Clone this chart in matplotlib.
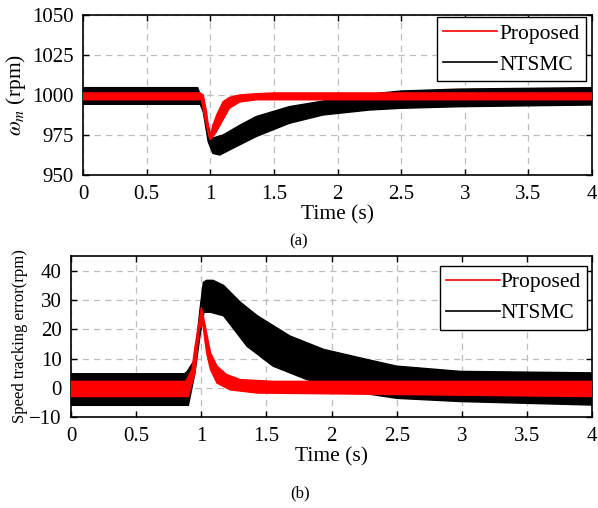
import matplotlib
matplotlib.use("Agg")
import matplotlib.pyplot as plt

plt.rcParams['font.family'] = ['Liberation Serif', 'DejaVu Serif']
plt.rcParams['mathtext.fontset'] = 'stix'

# rotor speed (rpm): upper and lower edge of the ripple band, each with its own time axis
t_spd_prop_hi = [0, 0.92, 0.944, 0.97, 0.996, 1.02, 1.05, 1.10, 1.15, 1.23, 1.36, 1.5, 4.0]
spd_prop_hi = [1001.3, 1001.3, 1000, 989.6, 973.5, 981, 987.5, 995.8, 998.5, 1000, 1000.8, 1001.3, 1001.3]
t_spd_prop_lo = [0, 0.93, 0.957, 0.99, 1.0, 1.04, 1.075, 1.15, 1.23, 1.36, 4.0]
spd_prop_lo = [997, 997, 985.4, 974, 972, 976, 981, 991.7, 995.6, 997, 997]

t_spd_nts_hi = [0, 0.90, 0.93, 0.983, 1.01, 1.10, 1.23, 1.36, 1.62, 1.885, 2.0, 2.25, 2.5, 2.96, 4.0]
spd_nts_hi = [1004.6, 1004.6, 998, 981, 972.9, 975, 981, 986.5, 992.7, 996.2, 998.5, 1000.5, 1002.5, 1003.7, 1004.6]
t_spd_nts_lo = [0, 0.92, 0.944, 0.983, 1.02, 1.075, 1.15, 1.36, 1.62, 1.885, 2.25, 2.5, 2.96, 4.0]
spd_nts_lo = [994.2, 994.2, 989.6, 970.8, 963.5, 962.5, 965.6, 974, 982.3, 987.5, 990.6, 991.7, 992.7, 993.75]

# speed tracking error (rpm)
t_err_prop_hi = [0, 0.88, 0.927, 0.952, 1.0, 1.03, 1.07, 1.12, 1.195, 1.30, 1.55, 4.0]
err_prop_hi = [2.2, 2.2, 6.2, 14.2, 27.5, 21.1, 12, 7.4, 4.5, 2.8, 2.2, 2.2]
t_err_prop_lo = [0, 0.90, 0.95, 0.985, 1.01, 1.04, 1.07, 1.12, 1.22, 1.43, 4.0]
err_prop_lo = [-3, -3, 5, 20, 22, 12, 6.2, 1.6, -0.7, -1.8, -3]

t_err_nts_hi = [0, 0.87, 0.89, 0.94, 0.965, 0.99, 1.015, 1.04, 1.09, 1.17, 1.30, 1.43, 1.68, 1.94, 2.27, 2.5, 2.99, 4.0]
err_nts_hi = [4.8, 4.8, 5.5, 9, 16.5, 27, 36, 36.7, 36.7, 35, 29.2, 24.6, 17.7, 13.1, 9.7, 7.4, 5.6, 5.1]
t_err_nts_lo = [0, 0.90, 0.914, 0.95, 0.99, 1.02, 1.07, 1.17, 1.25, 1.35, 1.55, 1.81, 2.0, 2.22, 2.5, 2.99, 4.0]
err_nts_lo = [-6, -6, -3, 5, 18, 25.8, 25.8, 24.6, 20, 14.2, 7.4, 2.8, 0.8, -1.7, -3.6, -4.7, -5.9]

x_ticks = [0, 0.5, 1, 1.5, 2, 2.5, 3, 3.5, 4]
x_ticklabels = ['0', '0.5', '1', '1.5', '2', '2.5', '3', '3.5', '4']


def band(ax, t_hi, hi, t_lo, lo, color):
    # closed outline: upper edge left->right, lower edge right->left
    xs = list(t_hi) + list(t_lo)[::-1]
    ys = list(hi) + list(lo)[::-1]
    ax.fill(xs, ys, facecolor=color, edgecolor=color, lw=1.0, zorder=3)


def style(ax):
    ax.set_xlim(0, 4)
    ax.set_xticks(x_ticks)
    ax.set_xticklabels(x_ticklabels)
    ax.grid(True, ls=(0, (5, 4)), color='#bdbdbd', lw=0.9, zorder=0)
    ax.tick_params(direction='in', top=True, right=True, length=4, width=1,
                   labelsize=15, pad=7)
    for s in ax.spines.values():
        s.set_linewidth(1.2)
    ax.set_xlabel('Time (s)', fontsize=15.5, labelpad=1)


def add_legend(ax, anchor, textpad):
    h = [plt.Line2D([], [], color='red', lw=1.2),
         plt.Line2D([], [], color='black', lw=1.2)]
    leg = ax.legend(h, ['Proposed', 'NTSMC'], loc='upper right', bbox_to_anchor=anchor,
                    fontsize=15.5, handlelength=2.5, handletextpad=textpad,
                    labelspacing=0.5, borderpad=0.3, borderaxespad=0,
                    fancybox=False, framealpha=1)
    leg.get_frame().set_edgecolor('black')
    leg.get_frame().set_linewidth(1.0)


fig = plt.figure(figsize=(5.98, 5.08), dpi=100)

ax1 = fig.add_axes([0.139, 0.6555, 0.851, 0.315])
band(ax1, t_spd_nts_hi, spd_nts_hi, t_spd_nts_lo, spd_nts_lo, 'black')
band(ax1, t_spd_prop_hi, spd_prop_hi, t_spd_prop_lo, spd_prop_lo, 'red')
ax1.set_ylim(950, 1050)
ax1.set_yticks([950, 975, 1000, 1025, 1050])
ax1.set_ylabel(r'$\omega_m$ (rpm)', fontsize=15.5, labelpad=3)
style(ax1)
add_legend(ax1, (0.988, 0.985), 0.1)

ax2 = fig.add_axes([0.119, 0.179, 0.871, 0.317])
band(ax2, t_err_nts_hi, err_nts_hi, t_err_nts_lo, err_nts_lo, 'black')
band(ax2, t_err_prop_hi, err_prop_hi, t_err_prop_lo, err_prop_lo, 'red')
ax2.set_ylim(-10, 45)
ax2.set_yticks([-10, 0, 10, 20, 30, 40])
ax2.set_ylabel('Speed tracking error(rpm)', fontsize=12, labelpad=1)
style(ax2)
add_legend(ax2, (0.99, 0.94), 0.0)

fig.text(0.5, 1 - 241 / 508, '(a)', ha='center', va='center', fontsize=12)
fig.text(0.502, 1 - 493 / 508, '(b)', ha='center', va='center', fontsize=12)

fig.savefig('out.png', dpi=100)
